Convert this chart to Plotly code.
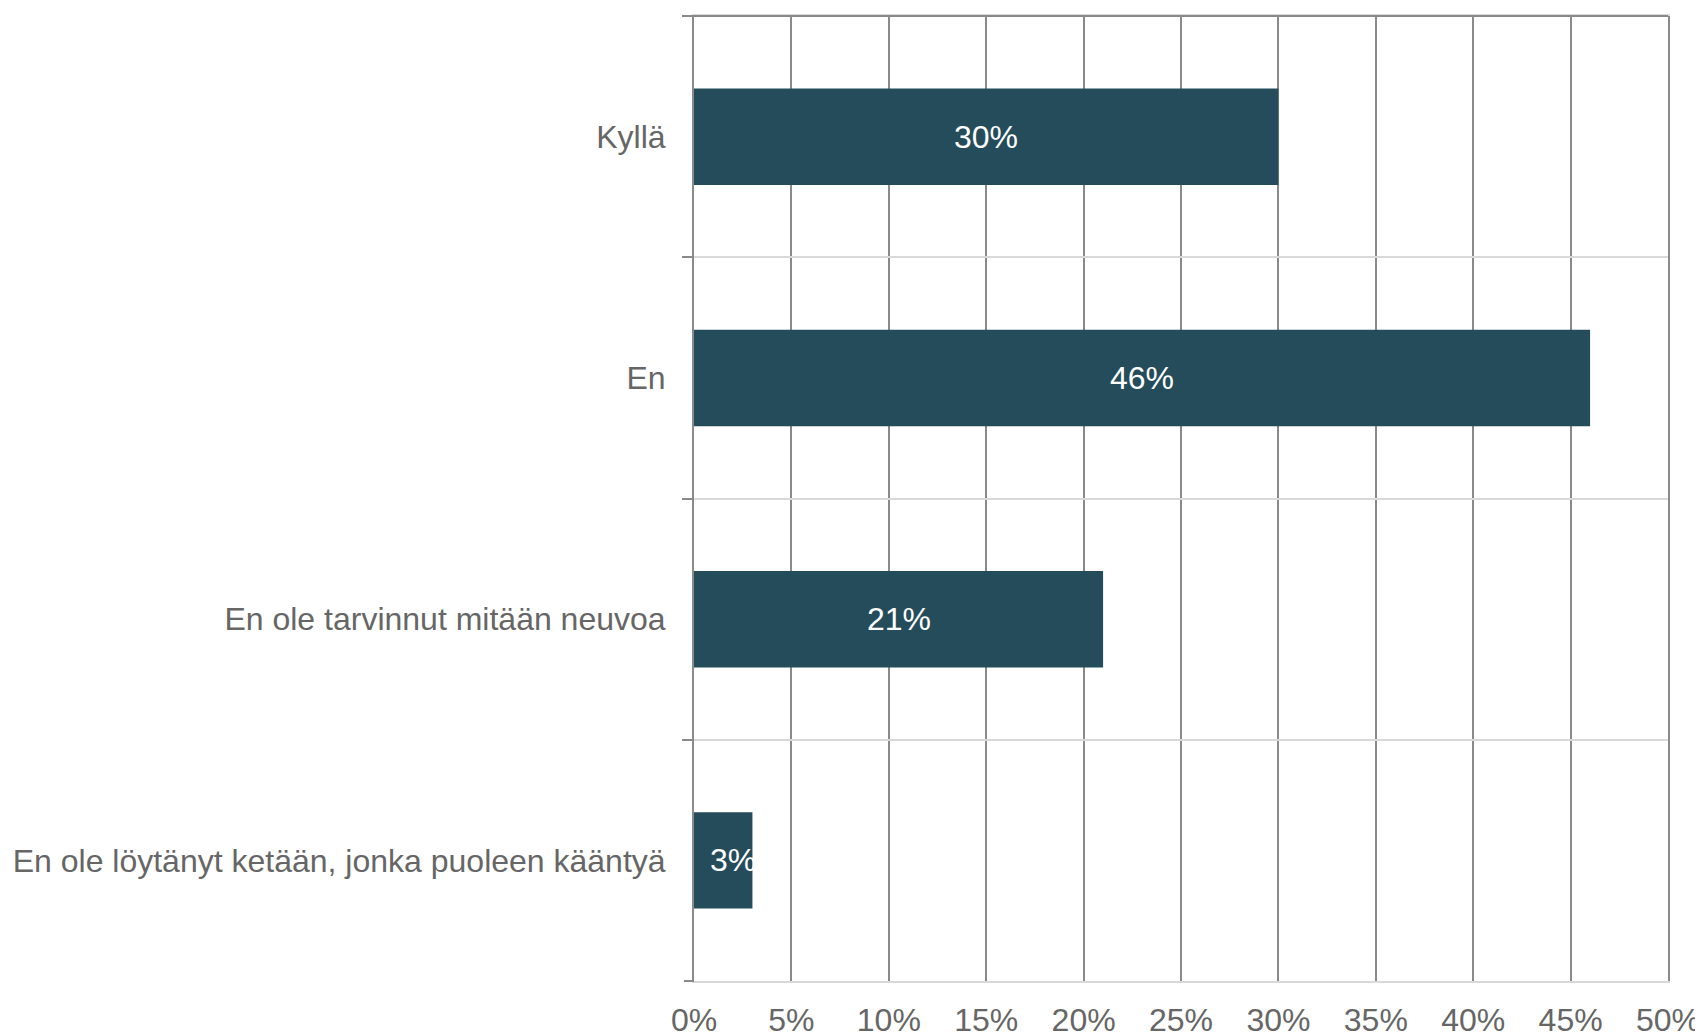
import plotly.graph_objects as go

categories = ["Kyllä", "En", "En ole tarvinnut mitään neuvoa", "En ole löytänyt ketään, jonka puoleen kääntyä"]
values = [30, 46, 21, 3]
x_ticks = [0, 5, 10, 15, 20, 25, 30, 35, 40, 45, 50]
x_tick_labels = [f"{t}%" for t in x_ticks]

BAR = "#244C5A"
TXT = "#666666"
DARK = "#8a8a8a"
LIGHT = "#d9d9d9"
FONT = "Liberation Sans, Arial, sans-serif"
FS = 32

fig = go.Figure()
fig.add_trace(go.Bar(
    y=categories, x=values, orientation="h",
    marker=dict(color=BAR, line=dict(width=0)),
    width=0.4, hoverinfo="skip",
))
for c, v in zip(categories, values):
    if v < 5:
        # label wider than bar: starts just inside the bar, as in the reference
        fig.add_annotation(x=0, y=c, text=f"{v}%", showarrow=False, xshift=14,
                           font=dict(family=FONT, size=FS, color="white"),
                           xanchor="left", yanchor="middle")
    else:
        fig.add_annotation(x=v / 2, y=c, text=f"{v}%", showarrow=False,
                           font=dict(family=FONT, size=FS, color="white"),
                           xanchor="center", yanchor="middle")

# top border (dark) with left tick extension, and bottom-left tick
fig.add_shape(type="line", xref="paper", yref="paper", x0=-0.0103, x1=1, y0=1, y1=1,
              line=dict(color=DARK, width=2), layer="above")
fig.add_shape(type="line", xref="paper", yref="paper", x0=-0.0103, x1=0, y0=0, y1=0,
              line=dict(color=DARK, width=2), layer="above")

fig.update_layout(
    width=1695, height=1027,
    margin=dict(l=686, r=35, t=8, b=54),
    paper_bgcolor="white", plot_bgcolor="white",
    showlegend=False,
    font=dict(family=FONT, size=FS, color=TXT),
    xaxis=dict(range=[0, 50], tickvals=x_ticks, ticktext=x_tick_labels,
               showgrid=True, gridcolor=DARK, gridwidth=2,
               zeroline=False, showline=True, linecolor=LIGHT, linewidth=2, mirror=True,
               ticks="", ticklabelstandoff=10, automargin=False,
               tickfont=dict(family=FONT, size=FS, color=TXT), fixedrange=True),
    yaxis=dict(categoryorder="array", categoryarray=categories, autorange="reversed",
               tickson="boundaries", ticks="outside", ticklen=10, tickcolor=DARK, tickwidth=2,
               showgrid=True, gridcolor=LIGHT, gridwidth=2,
               showline=True, linecolor=DARK, linewidth=2, mirror=True,
               zeroline=False, ticklabelstandoff=20, automargin=False,
               tickfont=dict(family=FONT, size=FS, color=TXT), fixedrange=True),
)

fig.write_html("out.html")
